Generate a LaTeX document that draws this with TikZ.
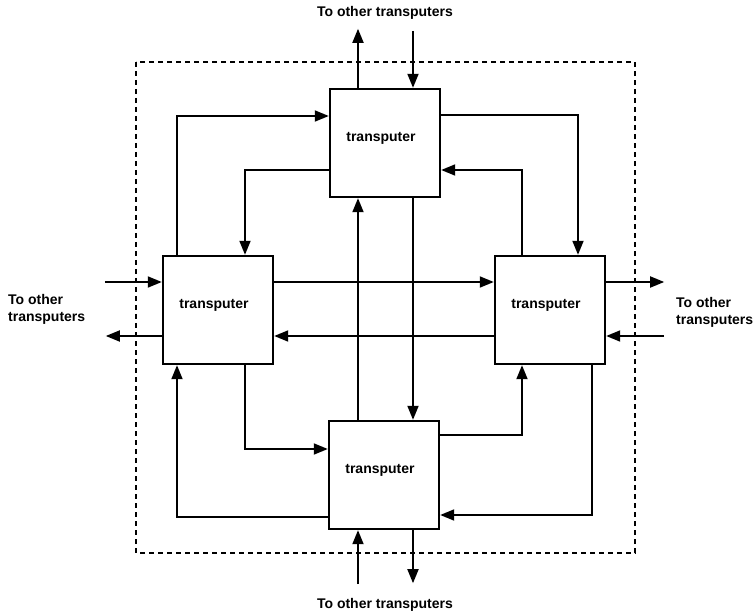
\documentclass[tikz,border=0pt]{standalone}
\usepackage{fontspec}
\setmainfont{Liberation Sans}
\usetikzlibrary{arrows.meta}
\tikzset{
	>={Triangle[length=14pt,width=11pt]},
	chip/.style={draw, line width=2.4pt, minimum width=110pt, minimum height=108pt,
		inner sep=0pt, text height=10pt, text depth=13pt,
		font=\fontsize{14}{16}\selectfont\bfseries},
	link/.style={->, line width=1.8pt},
	board/.style={line width=2pt, dash pattern=on 5pt off 4pt},
	lbl/.style={inner sep=0pt, font=\fontsize{14}{17}\selectfont\bfseries}}

\begin{document}
\begin{tikzpicture}[x=1pt, y=-1pt]
	\useasboundingbox (0,0) rectangle (756,615);
	% dashed outline
	\draw[board] (136,62) rectangle (635,553);

	\node[chip] (top) at (385,143) {transputer\kern8pt};
	\node[chip] (left) at (218,310) {transputer\kern8pt};
	\node[chip] (right) at (550,310) {transputer\kern8pt};
	\node[chip] (bottom) at (384,475) {transputer\kern8pt};

	% outer ring
	\draw[link] ([xshift=-41pt]left.north) |- ([yshift=27pt]top.west);
	\draw[link] ([yshift=28pt]top.east) -| ([xshift=28pt]right.north);
	\draw[link] ([xshift=42pt]right.south) |- ([yshift=-40pt]bottom.east);
	\draw[link] ([yshift=-42pt]bottom.west) -| ([xshift=-41pt]left.south);

	% inner ring
	\draw[link] ([yshift=-27pt]top.west) -| ([xshift=27pt]left.north);
	\draw[link] ([xshift=-28pt]right.north) |- ([yshift=-27pt]top.east);
	\draw[link] ([xshift=27pt]left.south) |- ([yshift=26pt]bottom.west);
	\draw[link] ([yshift=40pt]bottom.east) -| ([xshift=-28pt]right.south);

	% straight across
	\draw[link] ([yshift=28pt]left.east) -- ([yshift=28pt]right.west);
	\draw[link] ([yshift=-26pt]right.west) -- ([yshift=-26pt]left.east);
	\draw[link] ([xshift=28pt]top.south) -- ([xshift=29pt]bottom.north);
	\draw[link] ([xshift=-26pt]bottom.north) -- ([xshift=-27pt]top.south);

	% to the outside
	\draw[link] ([xshift=-27pt]top.north) -- ++(0,-59);
	\draw[link] ([xshift=28pt]top.north) ++(0,-57) -- ([xshift=28pt]top.north);
	\draw[link] ([yshift=28pt]left.west) ++(-57,0) -- ([yshift=28pt]left.west);
	\draw[link] ([yshift=-26pt]left.west) -- ++(-56,0);
	\draw[link] ([yshift=28pt]right.east) -- ++(58,0);
	\draw[link] ([yshift=-26pt]right.east) ++(58,0) -- ([yshift=-26pt]right.east);
	\draw[link] ([xshift=-26pt]bottom.south) ++(0,54) -- ([xshift=-26pt]bottom.south);
	\draw[link] ([xshift=29pt]bottom.south) -- ++(0,53);

	\node[lbl] (ttop) at (385,13) {To other transputers};
	\node[lbl] (tbot) at (385,605) {To other transputers};
	\node[lbl, anchor=west, align=left] (tleft) at (8,309) {To other\\transputers};
	\node[lbl, anchor=west, align=left] (tright) at (676,312) {To other\\transputers};
\end{tikzpicture}
\end{document}
